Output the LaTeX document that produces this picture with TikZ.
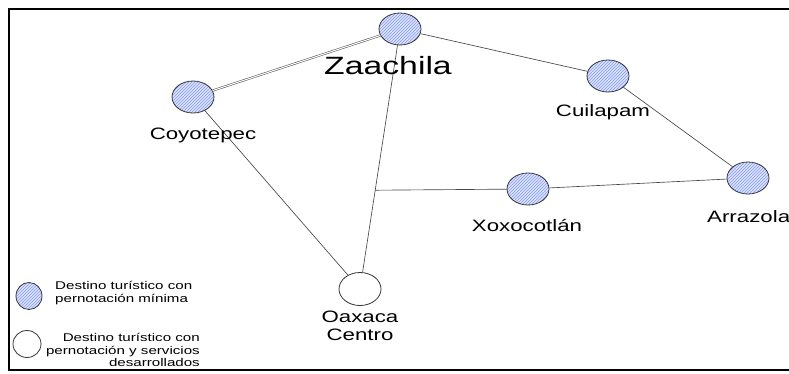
\documentclass[tikz,border=0pt]{standalone}
\usepackage{fontspec}
\setmainfont{Liberation Sans}
\newfontfamily\lab[FakeStretch=1.35]{Liberation Sans}
\usetikzlibrary{shapes.geometric,patterns,calc}
\definecolor{hatchbg}{RGB}{218,225,253}
\definecolor{hatchln}{RGB}{140,158,240}
\definecolor{edgec}{RGB}{70,70,70}
\definecolor{rimc}{RGB}{55,55,55}
\tikzset{
  town/.style={ellipse, draw=rimc, line width=0.8pt, minimum width=42pt, minimum height=32pt, inner sep=0pt,
    preaction={fill=hatchbg}, pattern=north east lines, pattern color=hatchln},
  centre/.style={ellipse, draw=rimc, line width=0.8pt, minimum width=42pt, minimum height=33pt, inner sep=0pt, fill=white},
  keytown/.style={town, minimum width=26pt, minimum height=27pt},
  keycentre/.style={centre, minimum width=28pt, minimum height=27pt},
  road/.style={draw=edgec, line width=0.65pt},
  dblroad/.style={draw=edgec, line width=0.5pt, double=white, double distance=1.1pt},
  biglab/.style={inner sep=0pt, font=\lab\fontsize{25}{28}\selectfont},
  lbl/.style={inner sep=0pt, font=\lab\fontsize{16.5}{18}\selectfont},
  keylab/.style={inner sep=0pt, font=\lab\fontsize{11.2}{12.7}\selectfont},
  frame/.style={draw=black, line width=1.6pt}
}
\begin{document}
\begin{tikzpicture}[x=1pt,y=-1pt]
\useasboundingbox (0,0) rectangle (789,373);
% frame
\coordinate (f1) at (789,9);
\coordinate (f2) at (9,9);
\coordinate (f3) at (9,370);
\coordinate (f4) at (789,370);
\draw[frame] (f1) -- (f2) -- (f3) -- (f4);
% nodes
\node[town] (zaa) at (400,29) {};
\node[town] (coy) at (193,97) {};
\node[town] (cui) at (608,76) {};
\node[town] (arr) at (748,178) {};
\node[town] (xox) at (528,189) {};
\node[centre] (oax) at (360,289) {};
\coordinate (junc) at ($(zaa.center)!0.62!(oax.center)$);
% connectors
\draw[dblroad] (zaa) -- (coy);
\draw[road] (zaa) -- (cui);
\draw[road] (cui) -- (arr);
\draw[road] (arr) -- (xox);
\draw[road] (xox) -- (junc);
\draw[road] (zaa) -- (oax);
\draw[road] (coy) -- (oax);
% labels
\node[biglab, anchor=base] (lzaa) at (388,74) {Zaachila};
\node[lbl, anchor=base] (lcoy) at (203,139) {Coyotepec};
\node[lbl, anchor=base] (lcui) at (603,116) {Cuilapam};
\node[lbl, anchor=base west] (larr) at (707,222) {Arrazola};
\node[lbl, anchor=base] (lxox) at (527,231) {Xoxocotlán};
\node[lbl, anchor=north, align=center] (loax) at (360,311) {Oaxaca\\Centro};
% legend
\node[keytown] (k1) at (29,296) {};
\node[keylab, anchor=north west, align=left] (k1t) at (55,281) {Destino turístico con\\pernotación mínima};
\node[keycentre] (k2) at (27,344) {};
\node[keylab, anchor=north east, align=right] (k2t) at (200,333) {Destino turístico con\\pernotación y servicios\\desarrollados};
\end{tikzpicture}
\end{document}
